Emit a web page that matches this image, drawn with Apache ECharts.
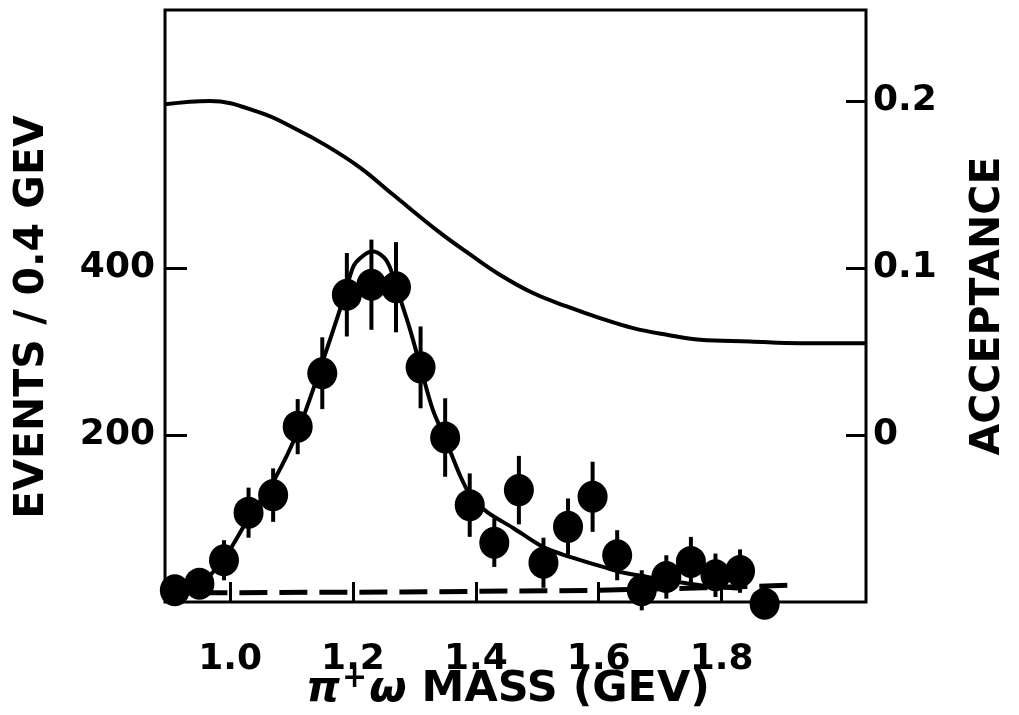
<!DOCTYPE html>
<html>
<head>
<meta charset="utf-8">
<title>pi+ omega mass spectrum</title>
<script src="https://cdn.jsdelivr.net/npm/echarts@6/dist/echarts.min.js"></script>
<style>
  html, body { margin: 0; padding: 0; background: #fff; }
  #main { width: 1019px; height: 715px; }
</style>
</head>
<body>
<div id="main"></div>
<script>
// measured points: mass (GeV), events per bin, error
const massX = [0.91, 0.95, 0.99, 1.03, 1.07, 1.11, 1.15, 1.19, 1.23, 1.27, 1.31, 1.35, 1.39,
  1.43, 1.47, 1.51, 1.55, 1.59, 1.63, 1.67, 1.71, 1.75, 1.79, 1.83, 1.87];
const events = [14, 22, 50, 107, 128, 210, 274, 368, 380, 377, 281, 197, 116,
  71, 134, 47, 90, 126, 56, 14, 30, 48, 32, 37, -2];
const errors = [16, 16, 24, 30, 32, 33, 43, 50, 54, 54, 49, 47, 38,
  29, 41, 30, 34, 42, 30, 24, 26, 30, 26, 26, 0];

// fitted resonance curve
const fitX = [0.919, 0.959, 0.993, 1.033, 1.073, 1.111, 1.146, 1.184, 1.200, 1.212, 1.231, 1.250,
  1.260, 1.272, 1.293, 1.309, 1.330, 1.351, 1.374, 1.391, 1.418, 1.460, 1.509, 1.553, 1.607,
  1.635, 1.688, 1.765, 1.830];
const fitY = [5, 26, 55, 104, 148, 206, 278, 362, 401, 412, 420, 413,
  401, 374, 326, 284, 230, 194, 152, 128, 108, 89, 66, 54, 42,
  36, 29, 20, 16];

// background (dashed)
const bgX = [0.95, 1.28, 1.60, 1.77, 1.91];
const bgY = [11, 12, 14, 17, 20];

// acceptance curve (right axis)
const accX = [0.894, 0.967, 1.049, 1.103, 1.158, 1.212, 1.265, 1.342, 1.391, 1.439, 1.493,
  1.548, 1.602, 1.656, 1.711, 1.765, 1.846, 1.927, 2.035];
const accY = [0.198, 0.200, 0.193, 0.184, 0.173, 0.160, 0.144, 0.121, 0.108, 0.096, 0.085,
  0.077, 0.070, 0.064, 0.060, 0.057, 0.056, 0.055, 0.055];

const xTicks = [1.0, 1.2, 1.4, 1.6, 1.8];
const leftTicks = [200, 400];
const rightTicks = [0, 0.1, 0.2];

const FONT = '"DejaVu Sans", "Liberation Sans", sans-serif';

let myChart = echarts.init(document.getElementById('main'));

function pairs(xs, ys) {
  return xs.map((x, i) => [x, ys[i]]);
}

let tickStyle = { color: '#000', width: 3 };
let labelStyle = { color: '#000', fontSize: 36, fontWeight: 'bold', fontFamily: FONT };

let option = {
  backgroundColor: '#fff',
  animation: false,
  grid: {
    left: 165, right: 153, top: 10, bottom: 113,
    show: true,
    borderColor: '#000',
    borderWidth: 3,
  },
  xAxis: {
    type: 'value',
    min: 0.894,
    max: 2.035,
    axisLine: { show: false },
    splitLine: { show: false },
    axisTick: { inside: true, length: 20, customValues: xTicks, lineStyle: tickStyle },
    axisLabel: Object.assign({ customValues: xTicks, margin: 40, formatter: v => v.toFixed(1) }, labelStyle),
  },
  yAxis: [
    {
      type: 'value',
      position: 'left',
      min: 0,
      max: 709,
      axisLine: { show: false },
      splitLine: { show: false },
      axisTick: { show: true, inside: true, length: 22, customValues: leftTicks, lineStyle: tickStyle },
      axisLabel: Object.assign({ customValues: leftTicks, margin: 10 }, labelStyle),
    },
    {
      type: 'value',
      position: 'right',
      min: -0.1,
      max: 0.2545,
      axisLine: { show: false },
      splitLine: { show: false },
      axisTick: { show: true, inside: true, length: 20, customValues: rightTicks, lineStyle: tickStyle },
      axisLabel: Object.assign({ customValues: rightTicks, margin: 7, formatter: v => String(+v.toFixed(1)) }, labelStyle),
    },
  ],
  graphic: [
    {
      type: 'text',
      x: 32, y: 317,
      rotation: Math.PI / 2,
      style: { text: 'EVENTS / 0.4 GEV', fill: '#000', font: 'bold 41px ' + FONT, align: 'center', verticalAlign: 'middle' },
    },
    {
      type: 'text',
      x: 988, y: 306,
      rotation: Math.PI / 2,
      style: { text: 'ACCEPTANCE', fill: '#000', font: 'bold 41px ' + FONT, align: 'center', verticalAlign: 'middle' },
    },
    {
      type: 'text',
      x: 508, y: 690,
      style: {
        text: '{g|π}{s|+}{g|ω} MASS (GEV)',
        fill: '#000',
        font: 'bold 43px ' + FONT,
        align: 'center',
        verticalAlign: 'middle',
        rich: {
          g: { fontSize: 43, fontWeight: 'bold', fontStyle: 'italic', fontFamily: FONT },
          s: { fontSize: 30, fontWeight: 'bold', fontFamily: FONT, padding: [0, 2, 22, 2] },
        },
      },
    },
  ],
  series: [
    {
      // acceptance
      type: 'line',
      yAxisIndex: 1,
      data: pairs(accX, accY),
      smooth: 0.4,
      symbol: 'none',
      lineStyle: { color: '#000', width: 4 },
      z: 2,
    },
    {
      // fit
      type: 'line',
      data: pairs(fitX, fitY),
      smooth: 0.3,
      symbol: 'none',
      lineStyle: { color: '#000', width: 4 },
      z: 2,
    },
    {
      // background
      type: 'line',
      data: pairs(bgX, bgY),
      symbol: 'none',
      lineStyle: { color: '#000', width: 5, type: [28, 12] },
      z: 2,
    },
    {
      // error bars
      type: 'custom',
      clip: false,
      data: massX.map((x, i) => [x, events[i], errors[i]]),
      encode: { x: 0, y: 1 },
      renderItem: function (params, api) {
        const x = api.value(0);
        const y = api.value(1);
        const e = api.value(2);
        const p1 = api.coord([x, y + e]);
        const p2 = api.coord([x, y - e]);
        return {
          type: 'line',
          shape: { x1: p1[0], y1: p1[1], x2: p2[0], y2: p2[1] },
          style: { stroke: '#000', lineWidth: 4 },
        };
      },
      z: 3,
    },
    {
      type: 'scatter',
      clip: false,
      data: pairs(massX, events),
      symbol: 'circle',
      symbolSize: [30, 32],
      itemStyle: { color: '#000', opacity: 1 },
      z: 4,
    },
  ],
};

myChart.setOption(option);
window.addEventListener('resize', () => {
  myChart.resize();
});
</script>
</body>
</html>
